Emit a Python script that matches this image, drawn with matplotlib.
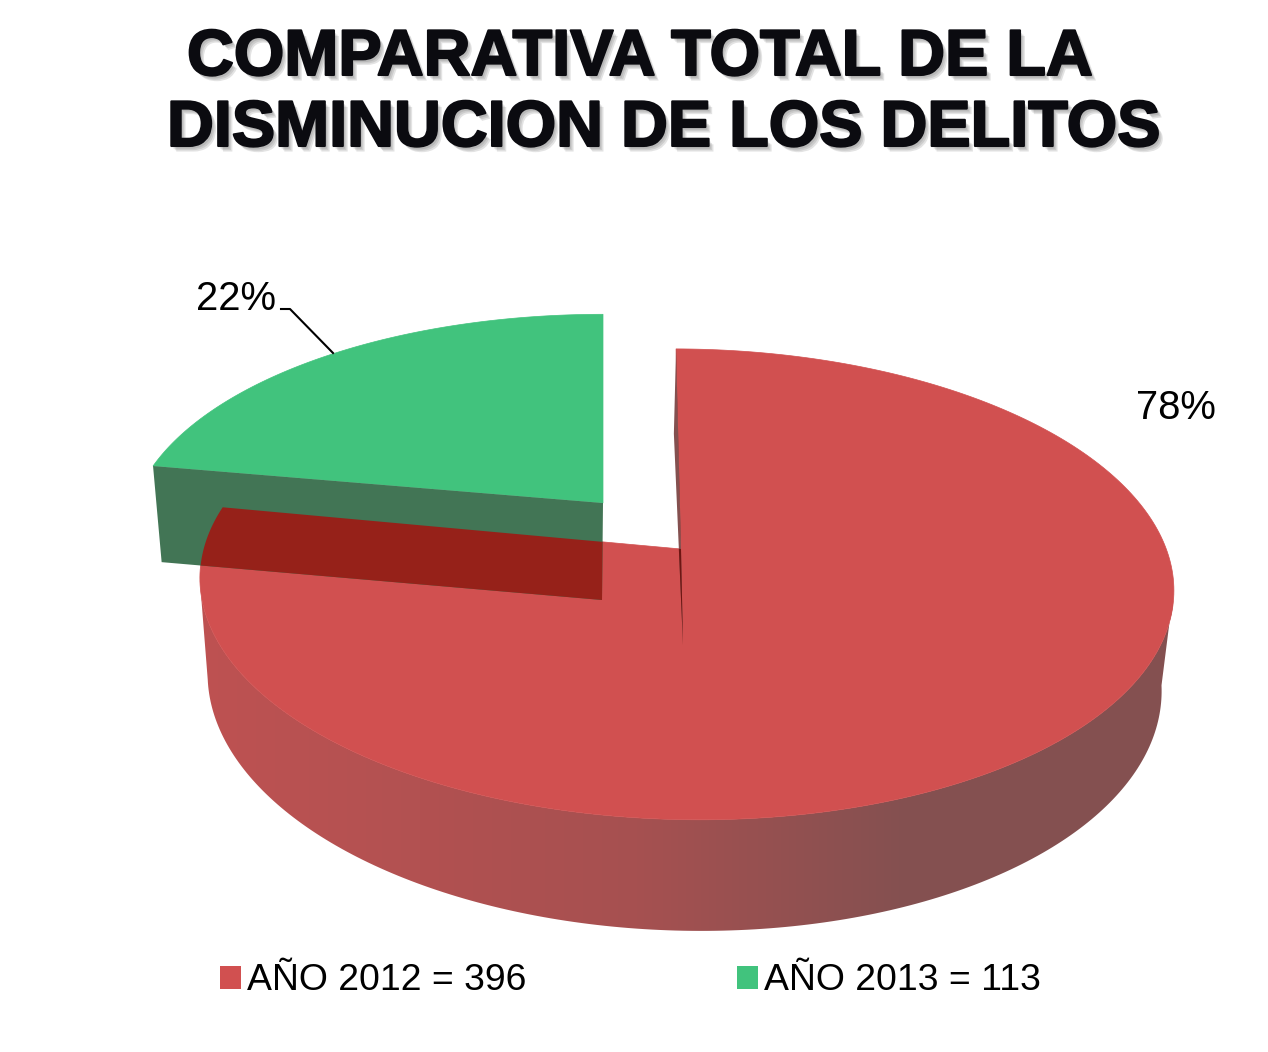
import numpy as np
import matplotlib
matplotlib.use("Agg")
import matplotlib.pyplot as plt
import matplotlib.patheffects as pe
from matplotlib.colors import LinearSegmentedColormap
from matplotlib.patches import Patch, Polygon

plt.rcParams["font.family"] = ["Liberation Sans", "DejaVu Sans"]

# data
title_lines = ["COMPARATIVA TOTAL DE LA", "DISMINUCION DE LOS DELITOS"]
years = ["AÑO 2012", "AÑO 2013"]
cases = [396, 113]

RED = "#D15050"
GREEN = "#41C37D"
GREEN_WALL = "#427555"
DARK_RED = "#962119"
SLIVER = "#84504F"
DARK_SLIVER = "#6E1512"


def project(theta, cx, cy, a, b, skew=0.0, tilt=0.0, lean=0.0, k=0.15):
    """Maps pie angles (clockwise from the top) on to a disc seen in perspective."""
    u, v = np.sin(theta), np.cos(theta)
    w = 1 + k * v + lean * u
    return np.column_stack([cx + (a * u + skew * v) / w, cy - (b * v + tilt * u) / w])


def apex(disc):
    return np.array([[disc["cx"], disc["cy"]]])


fig = plt.figure(figsize=(12.68, 10.52), dpi=100)
ax = fig.add_axes([0, 0, 1, 1])

share = np.array(cases) / sum(cases)
split = 2 * np.pi * share[0]

# disc geometry, in pixels
red_top = dict(cx=681, cy=549, a=481.4, b=230.1, skew=-5.7, tilt=-3.0, lean=-0.0102)
red_low = dict(cx=683, cy=645, a=471.5, b=243.0, skew=-10.5, tilt=-3.0)
green_top = dict(cx=603, cy=503, a=469.0, b=217.0)
green_low = dict(cx=602, cy=600, a=459.0, b=222.0)

# outer wall of the big slice, shaded from left to right
limb = np.arcsin(np.sqrt(1 - 0.15 ** 2))
front = np.linspace(np.pi - limb, np.pi + limb, 200)
wall = Polygon(np.vstack([project(front, **red_top), project(front[::-1], **red_low)]),
               closed=True, fc="none", ec="none")
ax.add_patch(wall)
shade = LinearSegmentedColormap.from_list(
    "wall", [(0.0, "#BE5252"), (0.45, "#A65050"), (0.72, "#855150"), (1.0, "#845050")])
im = ax.imshow(np.linspace(0, 1, 256)[None, :], cmap=shade, aspect="auto",
               extent=(199, 1173, 935, 580), zorder=1)
im.set_clip_path(wall)

# top of the big slice
theta_red = np.linspace(0, split, 300)
red_face = Polygon(np.vstack([project(theta_red, **red_top), apex(red_top)]),
                   closed=True, fc=RED, ec=RED, lw=0.5, zorder=2)
ax.add_patch(red_face)

# inner wall seen edge-on at the top of the slice
edge = np.array([0.0])
sliver = np.vstack([project(edge, **red_top), apex(red_top), apex(red_low), project(edge, **red_low)])
ax.add_patch(Polygon(sliver, closed=True, fc=SLIVER, ec="none", zorder=3))
dark = Polygon(sliver, closed=True, fc=DARK_SLIVER, ec="none", zorder=3.5)
ax.add_patch(dark)
dark.set_clip_path(red_face)

# exploded small slice
theta_green = np.linspace(split, 2 * np.pi, 120)
ax.add_patch(Polygon(np.vstack([project(theta_green, **green_top), apex(green_top)]),
                     closed=True, fc=GREEN, ec=GREEN, lw=0.5, zorder=4))
corner = np.array([split])
green_wall = np.vstack([project(corner, **green_top), apex(green_top), apex(green_low),
                        project(corner, **green_low)])
ax.add_patch(Polygon(green_wall, closed=True, fc=GREEN_WALL, ec="none", zorder=4))
overlap = Polygon(green_wall, closed=True, fc=DARK_RED, ec="none", zorder=5)
ax.add_patch(overlap)
overlap.set_clip_path(red_face)

# percent labels
ax.text(1176, 408, f"{share[0]:.0%}", fontsize=28.8, ha="center", va="center", color="black", zorder=6)
ax.text(236, 299, f"{share[1]:.0%}", fontsize=28.8, ha="center", va="center", color="black", zorder=6)
ax.plot([281, 290, 333], [309, 309, 353], color="black", lw=1.5, zorder=6)

# title, the soft shadow is a few faint offset copies
shadow = [pe.SimplePatchShadow(offset=(d, -d - 0.5), shadow_rgbFace="#555555", alpha=0.16) for d in (3.5, 2.5, 1.5)]
shadow += [pe.Stroke(linewidth=1.5, foreground="#0B0B10"), pe.Normal()]
for line, x, y in zip(title_lines, [187, 167], [58, 129]):
    ax.text(x, y, line, fontsize=46.7, fontweight="bold", color="#0B0B10", ha="left",
            va="center", path_effects=shadow, zorder=7)

# legend
handles = [Patch(fc=RED, ec="none"), Patch(fc=GREEN, ec="none")]
labels = [f"{y} = {n}" for y, n in zip(years, cases)]
ax.legend(handles, labels, loc="center left", bbox_to_anchor=(220, 981), bbox_transform=ax.transData,
          ncol=2, frameon=False, fontsize=26.9, handlelength=0.55, handleheight=0.55,
          handletextpad=0.18, columnspacing=5.63, borderpad=0, borderaxespad=0)

ax.set_xlim(0, 1268)
ax.set_ylim(1052, 0)
ax.axis("off")

fig.savefig("out.png", dpi=100, facecolor="white")
